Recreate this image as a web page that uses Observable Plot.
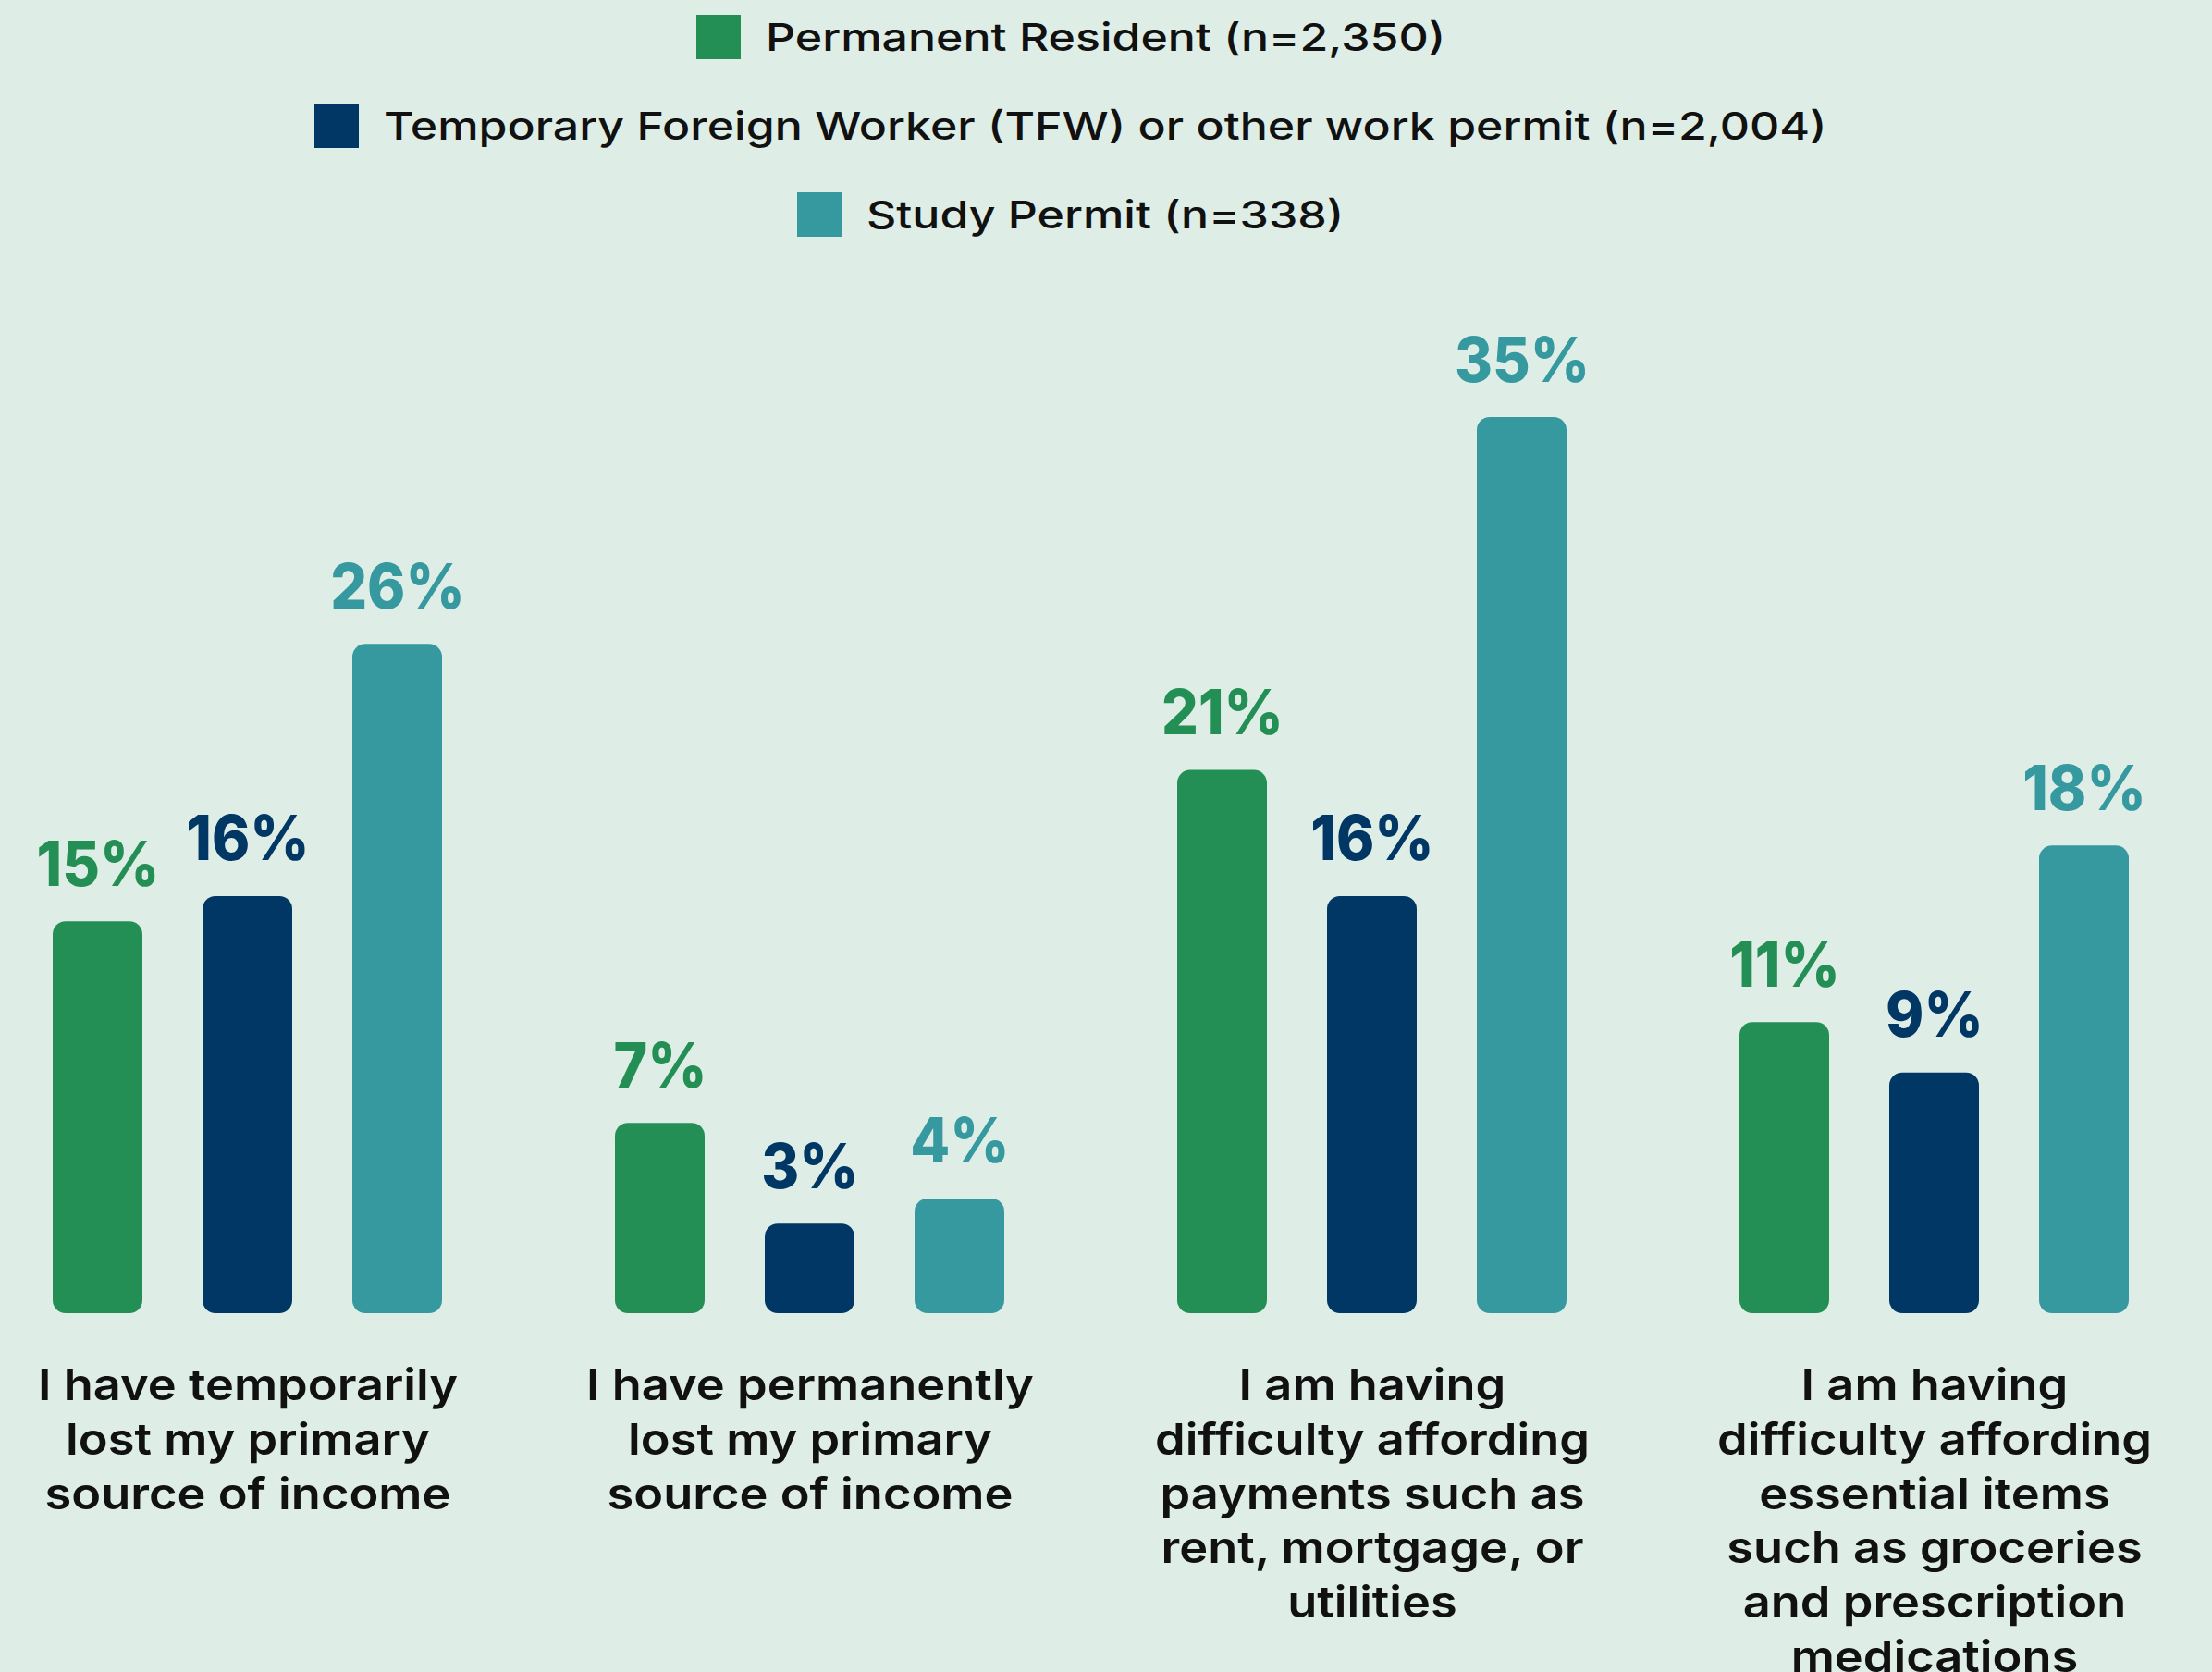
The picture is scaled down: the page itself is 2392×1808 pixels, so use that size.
<!DOCTYPE html>
<html>
<head>
<meta charset="utf-8">
<script src="https://cdn.jsdelivr.net/npm/d3@7"></script>
<script src="https://cdn.jsdelivr.net/npm/@observablehq/plot@0.6"></script>
<style>
  html, body { margin: 0; padding: 0; background: #deeee7; overflow: hidden; }
  body { width: 2392px; height: 1808px; font-family: Inter, "Open Sans", sans-serif; }
  #legend { height: 280px; box-sizing: border-box; padding-top: 16px; padding-right: 76px;
            display: flex; flex-direction: column; align-items: center; gap: 48px; }
  .row { display: flex; align-items: center; height: 48px; font-size: 41px; font-weight: 500; color: #111; }
  .row span { display: inline-block; transform: scaleX(1.22); transform-origin: left center; white-space: nowrap; }
  .sw { width: 48px; height: 48px; margin-right: 27px; flex: none; }
  #chart svg { display: block; }
</style>
</head>
<body>
<div id="legend"></div>
<div id="chart"></div>
<script>
const categories = [
  "I have temporarily\nlost my primary\nsource of income",
  "I have permanently\nlost my primary\nsource of income",
  "I am having\ndifficulty affording\npayments such as\nrent, mortgage, or\nutilities",
  "I am having\ndifficulty affording\nessential items\nsuch as groceries\nand prescription\nmedications"
];
const seriesNames = [
  "Permanent Resident (n=2,350)",
  "Temporary Foreign Worker (TFW) or other work permit (n=2,004)",
  "Study Permit (n=338)"
];
const permanentResident = [15, 7, 21, 11];
const tfwWorkPermit = [16, 3, 16, 9];
const studyPermit = [26, 4, 35, 18];
const seriesColors = ["#238f55", "#003764", "#35999f"];

const seriesValues = [permanentResident, tfwWorkPermit, studyPermit];
const data = [];
categories.forEach((c, i) => {
  seriesNames.forEach((s, j) => data.push({category: c, series: s, value: seriesValues[j][i]}));
});

// legend
const legend = document.getElementById("legend");
const spans = [];
seriesNames.forEach((s, j) => {
  const row = document.createElement("div");
  row.className = "row";
  const sw = document.createElement("div");
  sw.className = "sw";
  sw.style.background = seriesColors[j];
  const t = document.createElement("span");
  t.textContent = s;
  row.appendChild(sw); row.appendChild(t);
  legend.appendChild(row);
  spans.push(t);
});
spans.forEach(t => { t.style.marginRight = (0.22 * t.offsetWidth) + "px"; });

const chart = Plot.plot({
  width: 2392,
  height: 1528,
  marginLeft: 55,
  marginRight: 87,
  marginTop: 171,
  marginBottom: 403,
  style: {background: "transparent", fontFamily: "Inter, 'Open Sans', sans-serif"},
  fx: {domain: categories, paddingInner: 0.304, paddingOuter: 0, axis: null},
  x: {domain: seriesNames, paddingInner: 0.4, paddingOuter: 0, axis: null},
  y: {domain: [0, 35], axis: null},
  color: {domain: seriesNames, range: seriesColors},
  marks: [
    Plot.barY(data, {fx: "category", x: "series", y: "value", fill: "series", rx: 14, insetBottom: -15}),
    Plot.text(data, {fx: "category", x: "series", y: "value", text: d => d.value + "%",
      fill: "series", fontSize: 68, fontWeight: 800, lineAnchor: "bottom", dy: -39}),
    Plot.text(categories, {fx: d => d, text: d => d, frameAnchor: "bottom", lineAnchor: "top",
      dy: 67, fontSize: 47, fontWeight: 600, fill: "#111", lineHeight: 1.25})
  ]
});
// horizontal stretch/condense to mimic the wide geometric typeface of the original
chart.querySelectorAll("text").forEach(el => {
  const k = /%$/.test(el.textContent.trim()) ? 0.92 : 1.115;
  let tr = el.getAttribute("transform");
  if (!tr) {
    const x = +(el.getAttribute("x") || 0), y = +(el.getAttribute("y") || 0);
    el.removeAttribute("x"); el.removeAttribute("y");
    tr = `translate(${x},${y})`;
  }
  el.setAttribute("transform", tr + ` scale(${k},1)`);
});
document.getElementById("chart").appendChild(chart);
</script>
</body>
</html>
